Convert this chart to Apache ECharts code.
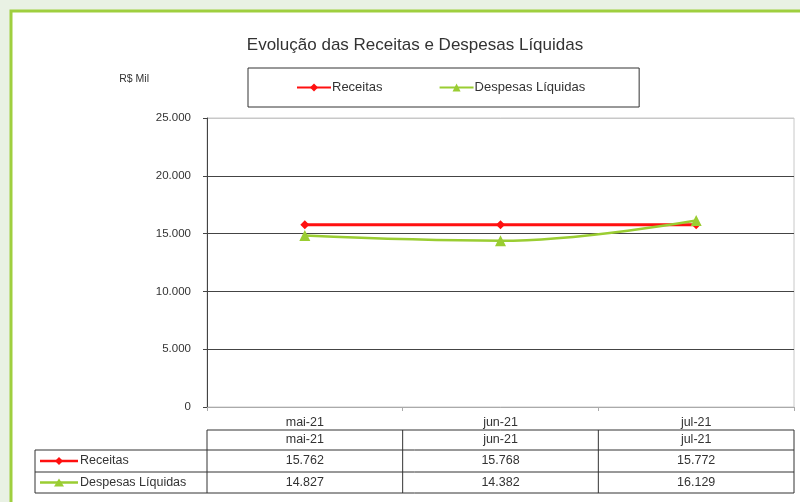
<!DOCTYPE html>
<html>
<head>
<meta charset="utf-8">
<script src="https://cdn.jsdelivr.net/npm/echarts@6/dist/echarts.min.js"></script>
<style>
  html, body { margin: 0; padding: 0; background: #e9f1e4; }
  #chart { width: 800px; height: 502px; }
</style>
</head>
<body>
<div id="chart"></div>
<script>
// dados do gráfico
const categories = ['mai-21', 'jun-21', 'jul-21'];
const receitas = [15762, 15768, 15772];
const despesas = [14827, 14382, 16129];
const seriesNames = ['Receitas', 'Despesas Líquidas'];

const RED = '#ff1010';
const GREEN = '#9acd32';
const FONT = 'Liberation Sans';

function fmt(v) {
  return String(v).replace(/\B(?=(\d{3})+(?!\d))/g, '.');
}

const chart = echarts.init(document.getElementById('chart'));

const option = {
  animation: false,
  backgroundColor: '#e9f1e4',
  textStyle: { fontFamily: FONT },
  title: {
    text: 'Evolução das Receitas e Despesas Líquidas',
    left: 410,
    top: 32,
    textAlign: 'center',
    textStyle: { fontSize: 17, fontWeight: 'normal', color: '#333', fontFamily: FONT }
  },
  legend: {
    data: seriesNames,
    left: 248,
    top: 68,
    itemGap: 56,
    itemWidth: 34,
    itemHeight: 10,
    padding: [13, 54, 13, 48],
    borderColor: '#333',
    borderWidth: 1,
    backgroundColor: '#fff',
    textStyle: { fontSize: 13, color: '#333', fontFamily: FONT, padding: [0, 0, 0, -4] }
  },
  grid: {
    left: 207,
    right: 6,
    top: 118,
    bottom: 95,
    show: true,
    borderColor: '#c8c8c8',
    borderWidth: 1,
    backgroundColor: 'transparent'
  },
  xAxis: {
    type: 'category',
    data: categories,
    boundaryGap: true,
    axisLine: { lineStyle: { color: '#aaa' } },
    axisTick: { show: true, length: 4, lineStyle: { color: '#aaa' } },
    axisLabel: { fontSize: 12.5, color: '#333', margin: 9, fontFamily: FONT }
  },
  yAxis: {
    type: 'value',
    min: 0,
    max: 25000,
    interval: 5000,
    name: 'R$ Mil',
    nameLocation: 'end',
    nameGap: 33,
    nameTextStyle: { fontSize: 10.5, color: '#333', align: 'right', padding: [0, 58, 0, 0] },
    axisLine: { show: true, lineStyle: { color: '#444' } },
    axisTick: { show: true, length: 4, lineStyle: { color: '#444' } },
    axisLabel: { fontSize: 11.5, color: '#333', margin: 16, formatter: fmt, fontFamily: FONT },
    splitLine: {
      show: true,
      lineStyle: { color: ['#c8c8c8', '#444', '#444', '#444', '#444', '#c8c8c8'], width: 1.2 }
    }
  },
  series: [
    {
      name: seriesNames[0],
      type: 'line',
      data: receitas,
      symbol: 'diamond',
      symbolSize: 9,
      itemStyle: { color: RED },
      lineStyle: { color: RED, width: 3 },
      z: 3
    },
    {
      name: seriesNames[1],
      type: 'line',
      data: despesas,
      smooth: 0.4,
      symbol: 'triangle',
      symbolSize: 11,
      itemStyle: { color: GREEN },
      lineStyle: { color: GREEN, width: 2.5 },
      z: 4
    }
  ]
};

chart.setOption(option);

// tabela de dados abaixo do eixo
const colCenters = categories.map((c, i) => chart.convertToPixel({ xAxisIndex: 0 }, i));
const bandW = colCenters.length > 1 ? colCenters[1] - colCenters[0] : 190;
const left0 = colCenters[0] - bandW / 2;
const right0 = colCenters[colCenters.length - 1] + bandW / 2;
const labelLeft = 35;
const rowY = [430, 450, 472, 493];

const g = [];
// moldura verde
g.push({
  type: 'rect', z: -10, silent: true,
  shape: { x: 11, y: 11, width: 800, height: 500 },
  style: { fill: '#fff', stroke: '#9fcf3f', lineWidth: 3 }
});
const lineStyle = { stroke: '#333', lineWidth: 1 };
// linhas horizontais
g.push({ type: 'line', shape: { x1: left0, y1: rowY[0], x2: right0, y2: rowY[0] }, style: lineStyle });
for (let r = 1; r < rowY.length; r++) {
  g.push({ type: 'line', shape: { x1: labelLeft, y1: rowY[r], x2: right0, y2: rowY[r] }, style: lineStyle });
}
// linhas verticais
g.push({ type: 'line', shape: { x1: labelLeft, y1: rowY[1], x2: labelLeft, y2: rowY[3] }, style: lineStyle });
for (let i = 0; i <= categories.length; i++) {
  const x = left0 + i * bandW;
  g.push({ type: 'line', shape: { x1: x, y1: rowY[0], x2: x, y2: rowY[3] }, style: lineStyle });
}
const txt = (x, y, text, align) => ({
  type: 'text', x: x, y: y,
  style: { text: text, fill: '#333', font: '12.5px "Liberation Sans"', align: align || 'center', verticalAlign: 'middle' }
});
categories.forEach((c, i) => g.push(txt(colCenters[i], (rowY[0] + rowY[1]) / 2, c)));
[receitas, despesas].forEach((arr, r) => {
  const yc = (rowY[r + 1] + rowY[r + 2]) / 2;
  arr.forEach((v, i) => g.push(txt(colCenters[i], yc, fmt(v))));
  const color = r === 0 ? RED : GREEN;
  g.push({ type: 'line', shape: { x1: 40, y1: yc, x2: 78, y2: yc }, style: { stroke: color, lineWidth: 2.5 } });
  if (r === 0) {
    g.push({ type: 'polygon', shape: { points: [[59, yc - 4], [63, yc], [59, yc + 4], [55, yc]] }, style: { fill: color } });
  } else {
    g.push({ type: 'polygon', shape: { points: [[59, yc - 4], [64, yc + 4], [54, yc + 4]] }, style: { fill: color } });
  }
  g.push(txt(80, yc, seriesNames[r], 'left'));
});

chart.setOption({ graphic: g });
</script>
</body>
</html>
